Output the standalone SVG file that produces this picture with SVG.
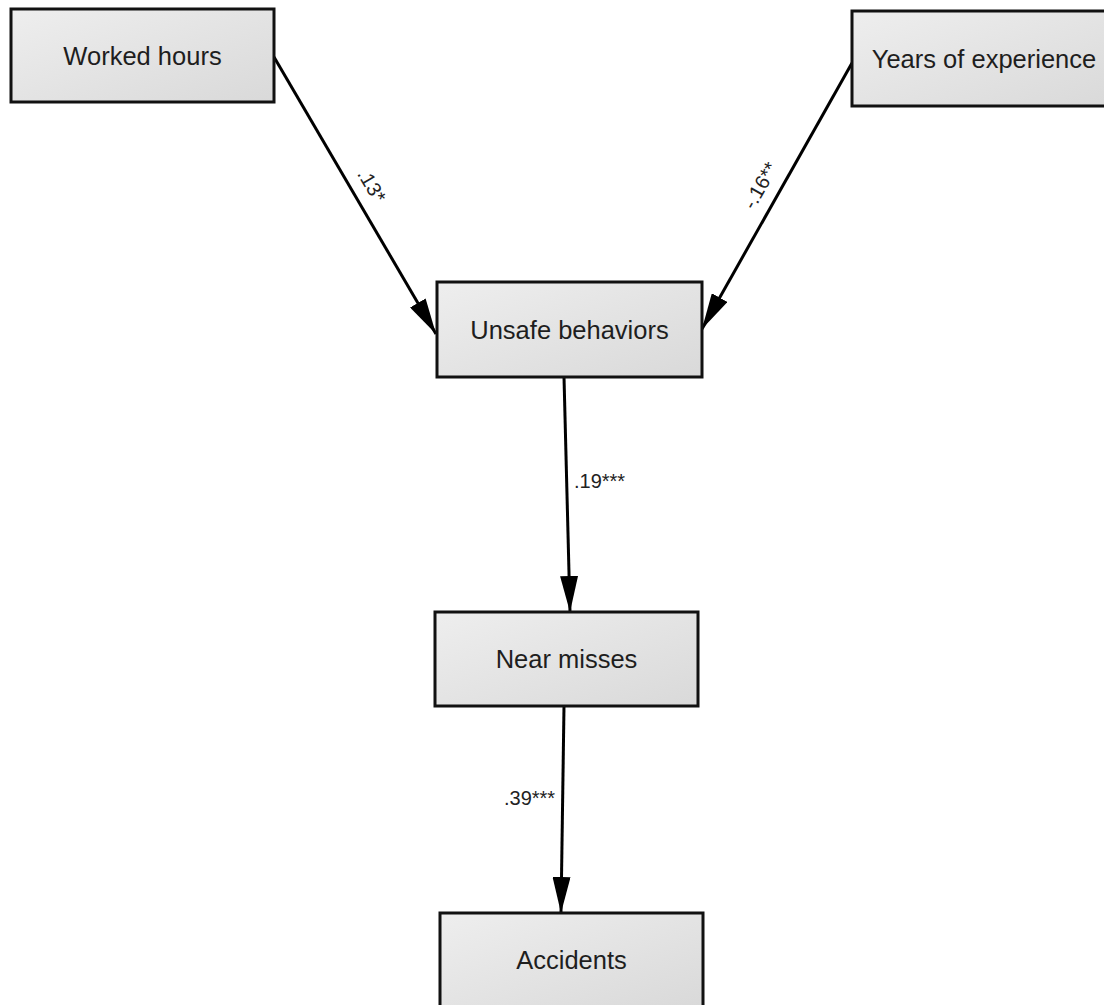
<svg xmlns="http://www.w3.org/2000/svg" width="1104" height="1005" viewBox="0 0 1104 1005">
<defs>
<linearGradient id="g" x1="0" y1="0" x2="1" y2="1">
<stop offset="0" stop-color="#eeeeee"/>
<stop offset="1" stop-color="#d9d9d9"/>
</linearGradient>
<marker id="ah" viewBox="0 0 36 18" refX="36" refY="9" markerWidth="36" markerHeight="18" markerUnits="userSpaceOnUse" orient="auto">
<path d="M0,0 L36,9 L0,18 z" fill="#000"/>
</marker>
</defs>
<style>
.box{fill:url(#g);stroke:#111;stroke-width:3}
.lbl{font-family:"Liberation Sans",Arial,sans-serif;font-size:25.5px;fill:#1e1e1e;text-anchor:middle}
.edge{stroke:#000;stroke-width:3;fill:none;marker-end:url(#ah)}
.el{font-family:"Liberation Sans",Arial,sans-serif;font-size:20px;fill:#222}
</style>
<rect width="1104" height="1005" fill="#fff"/>
<g id="connectors">
<line class="edge" x1="274" y1="57" x2="436" y2="334"/>
<line class="edge" x1="852" y1="63" x2="702" y2="329"/>
<line class="edge" x1="564" y1="377" x2="570" y2="612"/>
<line class="edge" x1="564" y1="706" x2="561" y2="913"/>
<text class="el" text-anchor="middle" transform="translate(371,186) rotate(59.4)" y="6">.13*</text>
<text class="el" text-anchor="middle" transform="translate(761,186) rotate(-60.5)" y="6">-.16**</text>
<text class="el" x="574" y="488">.19***</text>
<text class="el" x="504" y="805">.39***</text>
</g>
<g id="worked-hours">
<rect class="box" x="11" y="9" width="263" height="93"/>
<text class="lbl" x="142.5" y="64.5">Worked hours</text>
</g>
<g id="years-of-experience">
<rect class="box" x="852" y="11" width="264" height="95"/>
<text class="lbl" x="984" y="67.5">Years of experience</text>
</g>
<g id="unsafe-behaviors">
<rect class="box" x="437" y="282" width="265" height="95"/>
<text class="lbl" x="569.5" y="338.5">Unsafe behaviors</text>
</g>
<g id="near-misses">
<rect class="box" x="435" y="612" width="263" height="94"/>
<text class="lbl" x="566.5" y="668">Near misses</text>
</g>
<g id="accidents">
<rect class="box" x="440" y="913" width="263" height="94"/>
<text class="lbl" x="571.5" y="969">Accidents</text>
</g>
</svg>
